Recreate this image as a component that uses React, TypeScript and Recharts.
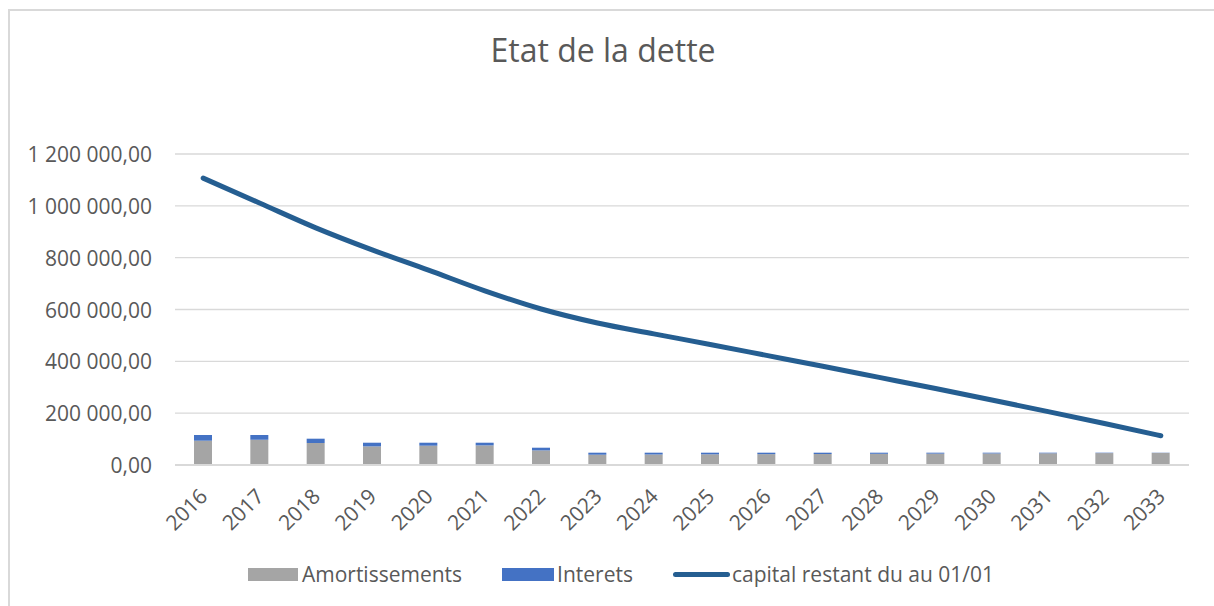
import React from 'react';
import { ComposedChart, Bar, Line, XAxis, YAxis, CartesianGrid, Legend } from 'recharts';

const years = ['2016', '2017', '2018', '2019', '2020', '2021', '2022', '2023', '2024', '2025', '2026', '2027', '2028', '2029', '2030', '2031', '2032', '2033'];
const amortissements = [93800, 97600, 84900, 71800, 74500, 75600, 56300, 39700, 40500, 41200, 41900, 42500, 43200, 43900, 44600, 45300, 46000, 46700];
const interets = [22000, 18200, 16600, 14200, 11500, 10400, 10400, 7800, 7000, 6300, 5600, 5000, 4300, 3600, 2900, 2200, 1500, 800];
const capitalRestant = [1107000, 1011000, 915000, 830000, 752000, 672000, 602000, 548000, 506000, 465000, 423000, 381000, 338000, 295000, 251000, 206000, 160000, 113000];
const yTicks = [0, 200000, 400000, 600000, 800000, 1000000, 1200000];

const seriesNames = {
  amortissements: 'Amortissements',
  interets: 'Interets',
  capital: 'capital restant du au 01/01',
};

const data = years.map((y, i) => ({
  year: y,
  amortissements: amortissements[i],
  interets: interets[i],
  capital: capitalRestant[i],
}));

const FONT = '"Open Sans", "Noto Sans", sans-serif';
const TEXT = '#595959';
const GRID = '#d9d9d9';
const GRAY = '#a5a5a5';
const BLUE = '#4472c4';
const LINE = '#255e91';

const fmt = (v: number) => {
  const [int, dec] = v.toFixed(2).split('.');
  return int.replace(/\B(?=(\d{3})+(?!\d))/g, ' ') + ',' + dec;
};

const YTick = (props: any) => {
  const { x, y, payload } = props;
  return (
    <text x={x} y={y} textAnchor="end" dominantBaseline="central" fill={TEXT} fontSize={21} fontFamily={FONT}>
      {fmt(payload.value)}
    </text>
  );
};

const XTick = (props: any) => {
  const { x, y, payload } = props;
  return (
    <text
      x={x}
      y={y}
      textAnchor="end"
      dominantBaseline="central"
      transform={`rotate(-45, ${x}, ${y})`}
      fill={TEXT}
      fontSize={21}
      fontFamily={FONT}
    >
      {payload.value}
    </text>
  );
};

const LegendContent = () => (
  <div
    style={{
      display: 'flex',
      justifyContent: 'center',
      alignItems: 'center',
      fontFamily: FONT,
      fontSize: 21,
      color: TEXT,
      height: 28,
      paddingLeft: 28,
    }}
  >
    <span style={{ display: 'inline-block', width: 50, height: 13, background: GRAY, marginRight: 4 }} />
    <span style={{ marginRight: 40 }}>{seriesNames.amortissements}</span>
    <span style={{ display: 'inline-block', width: 52, height: 13, background: BLUE, marginRight: 3 }} />
    <span style={{ marginRight: 40 }}>{seriesNames.interets}</span>
    <span style={{ display: 'inline-block', width: 57, height: 5, borderRadius: 3, background: LINE, marginRight: 2 }} />
    <span>{seriesNames.capital}</span>
  </div>
);

export default function App() {
  return (
    <div style={{ position: 'absolute', left: 0, top: 0, width: 1214, height: 606, background: '#fff', overflow: 'hidden' }}>
      <div
        style={{
          position: 'absolute',
          left: 8,
          top: 9,
          width: 1206,
          height: 597,
          borderTop: `2px solid ${GRID}`,
          borderLeft: `2px solid ${GRID}`,
          boxSizing: 'border-box',
        }}
      />
      <div
        style={{
          position: 'absolute',
          left: 0,
          top: 34,
          width: 1206,
          textAlign: 'center',
          fontFamily: FONT,
          fontSize: 32,
          lineHeight: '32px',
          color: TEXT,
        }}
      >
        Etat de la dette
      </div>
      <div style={{ position: 'absolute', left: 0, top: 0 }}>
        <ComposedChart
          width={1214}
          height={606}
          data={data}
          margin={{ top: 154, right: 25, bottom: 81, left: 0 }}
          barCategoryGap={0}
        >
          <CartesianGrid vertical={false} stroke={GRID} strokeWidth={1.3} />
          <XAxis
            dataKey="year"
            height={60}
            interval={0}
            tickLine={false}
            tickSize={6}
            tickMargin={21}
            axisLine={{ stroke: GRID, strokeWidth: 2 }}
            tick={<XTick />}
          />
          <YAxis
            width={175}
            domain={[0, 1200000]}
            ticks={yTicks}
            interval={0}
            tickLine={false}
            axisLine={false}
            tickSize={6}
            tickMargin={17}
            tick={<YTick />}
          />
          <Legend
            layout="horizontal"
            verticalAlign="middle"
            align="center"
            wrapperStyle={{ top: 560, left: 0, width: 1214 }}
            content={<LegendContent />}
          />
          <Bar dataKey="amortissements" stackId="a" fill={GRAY} barSize={18} isAnimationActive={false} />
          <Bar dataKey="interets" stackId="a" fill={BLUE} barSize={18} isAnimationActive={false} />
          <Line
            dataKey="capital"
            type="monotone"
            stroke={LINE}
            strokeWidth={5}
            strokeLinecap="round"
            dot={false}
            activeDot={false}
            isAnimationActive={false}
          />
        </ComposedChart>
      </div>
    </div>
  );
}
